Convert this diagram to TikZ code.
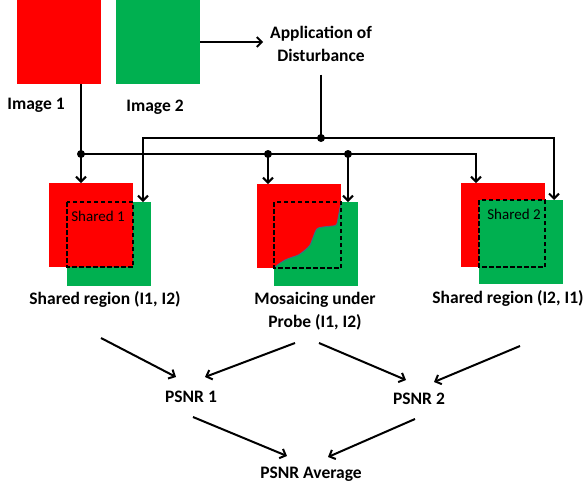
\documentclass[tikz,border=0pt]{standalone}
\usepackage{fontspec}
\setmainfont{Carlito}
\usetikzlibrary{arrows.meta}

\definecolor{imgred}{RGB}{255,0,0}
\definecolor{imggreen}{RGB}{0,176,80}
\definecolor{seam}{RGB}{70,100,140}

\begin{document}
\begin{tikzpicture}[x=1pt, y=-1pt, every path/.style={line width=2pt},
        redimg/.style={fill=imgred, minimum size=84pt, inner sep=0pt, anchor=north west, line width=0pt},
        greenimg/.style={fill=imggreen, minimum size=84pt, inner sep=0pt, anchor=north west, line width=0pt},
        txt/.style={font=\bfseries\fontsize{17.5}{23}\selectfont, align=center, inner sep=2pt},
        inner/.style={font=\fontsize{15}{17}\selectfont, inner sep=0pt},
        junction/.style={circle, fill, inner sep=0pt, minimum size=8pt},
        shared/.style={line width=1.3pt, dash pattern=on 4.5pt off 2.5pt},
        arr/.style={-{Straight Barb[length=5pt, width=10pt]}}]

        \useasboundingbox (0,0) rectangle (584,488);

        \node[redimg] (img1) at (17,0) {};
        \node[greenimg] (img2) at (116,0) {};
        \node[txt] (lab1) at (36,105) {Image 1};
        \node[txt] (lab2) at (155,107) {Image 2};
        \node[txt] (dist) at (321,44) {Application of\\Disturbance};

        \node[greenimg] (grnA) at (67,202) {};
        \node[redimg] (redA) at (49,183) {};
        \node[greenimg] (grnB) at (274,202) {};
        \node[redimg] (redB) at (257,184) {};
        \node[redimg] (redC) at (461,183) {};
        \node[greenimg] (grnC) at (479,200) {};

        \fill[imggreen] plot[smooth] coordinates {(341,202) (338.3,216.7) (336,225) (326.7,226.5) (317.3,228.5) (313.3,236.7) (310,245) (305,250) (298.3,255) (291.7,257.3) (285,260) (278.3,264.3) (274,268)} -- (341,268) -- cycle;
        \draw[seam, line width=0.8pt] plot[smooth] coordinates {(341,202) (338.3,216.7) (336,225) (326.7,226.5) (317.3,228.5) (313.3,236.7) (310,245) (305,250) (298.3,255) (291.7,257.3) (285,260) (278.3,264.3) (274,268)};

        \draw[shared] (grnA.north west) rectangle (redA.south east);
        \draw[shared] (grnB.north west) rectangle (redB.south east);
        \draw[shared] (grnC.north west) rectangle (redC.south east);
        \node[inner] (sh1) at (98,216) {Shared 1};
        \node[inner] (sh2) at (514,214) {Shared 2};

        \node[txt] (capA) at (105,299) {Shared region (I1, I2)};
        \node[txt] (capB) at (315,311) {Mosaicing under\\Probe (I1, I2)};
        \node[txt] (capC) at (508,298) {Shared region (I2, I1)};
        \node[txt] (psnr1) at (191,397) {PSNR 1};
        \node[txt] (psnr2) at (419,399) {PSNR 2};
        \node[txt] (avg) at (311,474) {PSNR Average};

        \coordinate (j0) at (321,138);
        \coordinate (j1) at (81,154);
        \coordinate (j2) at (268,154);
        \coordinate (j3) at (348,154);
        \coordinate (k1) at (476,154);
        \coordinate (k2) at (143,138);
        \coordinate (k3) at (554,138);
        \foreach \j in {j0,j1,j2,j3} \node[junction] at (\j) {};

        \draw[arr, shorten >=4pt] (img2.east) -- (dist.west |- img2.east);
        \draw ([yshift=-10pt]dist.south) -- (j0);
        \draw[arr] (j0) -- (k2) -- (k2 |- grnA.north);
        \draw[arr] (j0) -- (k3) -- (k3 |- grnC.north);
        \draw (j1 |- img1.south) -- (j1);
        \draw[arr] (j1) -- (j1 |- redA.north);
        \draw[arr] (j1) -- (k1) -- (k1 |- redC.north);
        \draw[arr] (j2) -- (j2 |- redB.north);
        \draw[arr] (j3) -- (j3 |- grnB.north);

        \draw[arr] ([shift={(-4,39)}]capA.center) -- ([shift={(-15,-20)}]psnr1.center);
        \draw[arr] ([shift={(-20,32)}]capB.center) -- ([shift={(14,-20)}]psnr1.center);
        \draw[arr] ([shift={(4,32)}]capB.center) -- ([shift={(-13,-19)}]psnr2.center);
        \draw[arr] ([shift={(12,48)}]capC.center) -- ([shift={(15,-17)}]psnr2.center);
        \draw[arr] ([shift={(2,20)}]psnr1.center) -- ([shift={(-24,-18)}]avg.center);
        \draw[arr] ([shift={(-4,20)}]psnr2.center) -- ([shift={(17,-17)}]avg.center);

\end{tikzpicture}
\end{document}
